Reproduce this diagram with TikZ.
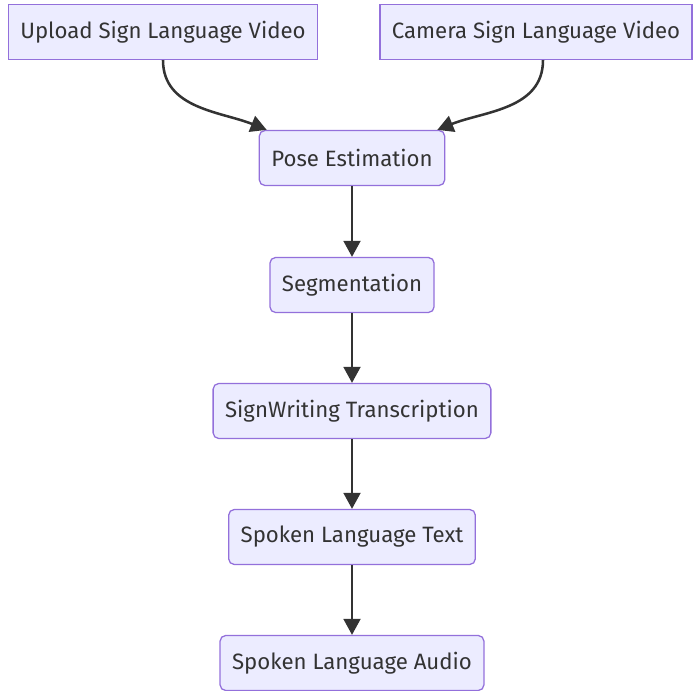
\documentclass[tikz,border=0pt]{standalone}
\usepackage{fontspec}
\setmainfont{Fira Sans}
\usepackage{xcolor}
\usetikzlibrary{arrows.meta}
\definecolor{boxfill}{RGB}{236,236,255}
\definecolor{boxline}{RGB}{147,112,219}
\definecolor{flow}{RGB}{51,51,51}
\tikzstyle{step box}=[draw=boxline, fill=boxfill, line width=0.9pt, minimum height=1.375cm, inner xsep=0.3cm, text=flow, font=\fontsize{15.8}{17}\selectfont]
\tikzset{rounded step/.style={rounded corners=4pt}}
\tikzset{flow arrow/.style={-{Triangle[length=0.4cm,width=0.42cm]}, line width=1.8pt, color=flow}}

\begin{document}
\begin{tikzpicture}
  \useasboundingbox (0,0) rectangle (17.375,-17.275);
  \draw (4.075,-0.8) node[step box] (upload) {Upload Sign Language Video};
  \draw (13.4,-0.8) node[step box] (camera) {Camera Sign Language Video};

  \draw (8.8,-3.95) node[step box,rounded step] (pose) {Pose Estimation};
  \draw (8.8,-7.125) node[step box,rounded step] (seg) {Segmentation};
  \draw (8.8,-10.275) node[step box,rounded step] (sw) {SignWriting Transcription};
  \draw (8.8,-13.425) node[step box,rounded step] (text) {Spoken Language Text};
  \draw (8.8,-16.575) node[step box,rounded step] (audio) {Spoken Language Audio};

  \draw[flow arrow] (upload.south) to[out=-90,in=158] ([xshift=0.2cm]pose.north west);
  \draw[flow arrow] ([xshift=0.175cm]camera.south) to[out=-90,in=22] ([xshift=-0.2cm]pose.north east);

  \draw[flow arrow] (pose) -- (seg);
  \draw[flow arrow] (seg) -- (sw);
  \draw[flow arrow] (sw) -- (text);
  \draw[flow arrow] (text) -- (audio);
\end{tikzpicture}
\end{document}
